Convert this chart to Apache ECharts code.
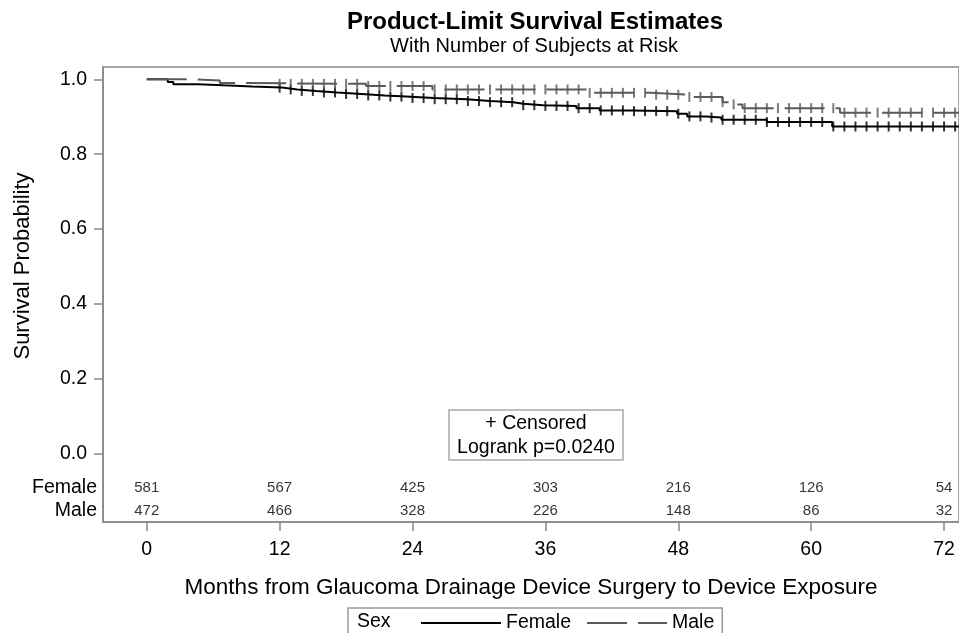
<!DOCTYPE html>
<html>
<head>
<meta charset="utf-8">
<title>Product-Limit Survival Estimates</title>
<script src="https://cdn.jsdelivr.net/npm/echarts@6/dist/echarts.min.js"></script>
<style>
  html, body { margin: 0; padding: 0; background: #fff; }
  #chart { width: 959px; height: 633px; }
</style>
</head>
<body>
<div id="chart"></div>
<script>
// tick labels / at-risk table
var months = [0, 12, 24, 36, 48, 60, 72];
var yTicks = [0, 0.2, 0.4, 0.6, 0.8, 1.0];
var femaleAtRisk = [581, 567, 425, 303, 216, 126, 54];
var maleAtRisk = [472, 466, 328, 226, 148, 86, 32];

// KM steps (time, survival after step)
var femaleTime = [0, 1.9, 2.4, 4.6, 6.9, 9.5, 12.2, 13.6, 15.3, 17.2, 19.4, 21.5, 23.4, 25.9, 28.9, 31.0, 33.1, 34.0, 35.8, 38.8, 40.9, 43.9, 47.9, 48.8, 50.5, 51.9, 56.0, 61.9];
var femaleSurv = [1.0, 0.993, 0.987, 0.984, 0.981, 0.978, 0.973, 0.969, 0.965, 0.961, 0.957, 0.954, 0.950, 0.947, 0.942, 0.939, 0.935, 0.931, 0.929, 0.923, 0.917, 0.915, 0.908, 0.901, 0.898, 0.892, 0.886, 0.874];
var maleTime = [0, 4.5, 6.6, 9.0, 19.8, 25.8, 40.0, 45.5, 48.8, 52.0, 52.9, 53.8, 62.6];
var maleSurv = [1.0, 0.997, 0.990, 0.988, 0.982, 0.973, 0.964, 0.959, 0.953, 0.939, 0.933, 0.923, 0.911];

// censoring times (the + marks)
var femaleCensor = [12, 13, 14, 15, 16, 17, 18, 19, 20, 21, 22, 23, 24, 25, 26, 27, 28, 29, 30, 31, 32, 33, 34, 35, 36, 37, 38, 39, 40, 41, 42, 43, 44, 45, 46, 47, 48, 49, 50, 51, 52, 53, 54, 55, 56, 57, 58, 59, 60, 61, 62, 63, 64, 65, 66, 67, 68, 69, 70, 71, 72, 73];
var maleCensor = [12, 13, 14, 15, 16, 17, 18, 19, 20, 21, 22, 23, 24, 25, 26, 27, 28, 29, 30, 31, 32, 33, 34, 35, 36, 37, 38, 39, 40, 41, 42, 43, 44, 45, 46, 47, 48, 49, 50, 51, 52, 53, 54, 55, 56, 57, 58, 59, 60, 61, 62, 63, 64, 65, 66, 67, 68, 69, 70, 71, 72, 73];

var xMin = -3.95, xMax = 73.35;
var yMin = -0.183, yMax = 1.033;
var femaleRowY = -0.091, maleRowY = -0.153;
var font = 'Liberation Sans, Arial, Helvetica, sans-serif';

function stepData(t, s) {
    var d = t.map(function (x, i) { return [x, s[i]]; });
    d.push([xMax, s[s.length - 1]]);
    return d;
}
function survAt(t, s, x) {
    var v = s[0];
    for (var i = 0; i < t.length; i++) {
        if (t[i] <= x) v = s[i];
    }
    return v;
}
function censorData(c, t, s) {
    return c.map(function (x) { return [x, survAt(t, s, x)]; });
}
function riskData(counts, y) {
    return months.map(function (m, i) { return [m, y, counts[i]]; });
}

var myChart = echarts.init(document.getElementById('chart'));

var riskLabel = {
    show: true,
    position: 'inside',
    fontFamily: font,
    fontSize: 15,
    color: '#000',
    formatter: function (p) { return p.value[2]; }
};

var option = {
    animation: false,
    textStyle: { fontFamily: font },
    title: [{
        text: 'Product-Limit Survival Estimates',
        left: 535, top: 10, padding: 0, textAlign: 'center',
        textStyle: { fontFamily: font, fontSize: 24, fontWeight: 'bold', color: '#000' }
    }, {
        text: 'With Number of Subjects at Risk',
        left: 534, top: 36, padding: 0, textAlign: 'center',
        textStyle: { fontFamily: font, fontSize: 20, fontWeight: 'normal', color: '#000' }
    }],
    grid: {
        left: 103, right: -2, top: 67, bottom: 111,
        show: true, borderColor: '#888', borderWidth: 1.5
    },
    legend: {
        data: ['Female', 'Male'],
        left: 348, top: 608,
        padding: [5, 8, 5, 72],
        itemWidth: 80, itemHeight: 14, itemGap: 15,
        itemStyle: { opacity: 0 },
        borderColor: '#999', borderWidth: 1.5,
        textStyle: { fontFamily: font, fontSize: 19.5, color: '#000' }
    },
    xAxis: {
        type: 'value', min: xMin, max: xMax,
        axisLine: { onZero: false, lineStyle: { color: '#888', width: 1.5 } },
        axisTick: { customValues: months, length: 9, lineStyle: { color: '#888', width: 1.5 } },
        axisLabel: { customValues: months, margin: 18, fontFamily: font, fontSize: 19.5, color: '#000' },
        splitLine: { show: false },
        name: 'Months from Glaucoma Drainage Device Surgery to Device Exposure',
        nameLocation: 'middle', nameGap: 54,
        nameTextStyle: { fontFamily: font, fontSize: 22.5, color: '#000' }
    },
    yAxis: {
        type: 'value', min: yMin, max: yMax,
        axisLine: { show: true, onZero: false, lineStyle: { color: '#888', width: 1.5 } },
        axisTick: { show: true, customValues: yTicks, length: 9, lineStyle: { color: '#888', width: 1.5 } },
        axisLabel: {
            customValues: yTicks, margin: 16, fontFamily: font, fontSize: 19.5, color: '#000',
            formatter: function (v) { return v.toFixed(1); }
        },
        splitLine: { show: false }
    },
    graphic: [
        {
            type: 'text', x: 23, y: 266, rotation: Math.PI / 2,
            style: { text: 'Survival Probability', fontFamily: font, fontSize: 22, fill: '#000', align: 'center', verticalAlign: 'middle' }
        },
        {
            type: 'text', x: 97, y: 488,
            style: { text: 'Female', fontFamily: font, fontSize: 19.5, fill: '#000', align: 'right', verticalAlign: 'middle' }
        },
        {
            type: 'text', x: 97, y: 511,
            style: { text: 'Male', fontFamily: font, fontSize: 19.5, fill: '#000', align: 'right', verticalAlign: 'middle' }
        },
        {
            type: 'rect', shape: { x: 449, y: 410, width: 174, height: 50 },
            style: { fill: '#fff', stroke: '#aaa', lineWidth: 1.5 }
        },
        {
            type: 'text', x: 536, y: 424,
            style: { text: '+ Censored', fontFamily: font, fontSize: 19.5, fill: '#000', align: 'center', verticalAlign: 'middle' }
        },
        {
            type: 'text', x: 536, y: 448,
            style: { text: 'Logrank p=0.0240', fontFamily: font, fontSize: 19.5, fill: '#000', align: 'center', verticalAlign: 'middle' }
        },
        {
            type: 'text', x: 357, y: 622,
            style: { text: 'Sex', fontFamily: font, fontSize: 19.5, fill: '#000', align: 'left', verticalAlign: 'middle' }
        }
    ],
    series: [
        {
            name: 'Female', type: 'line', step: 'end', showSymbol: false, symbol: 'none',
            data: stepData(femaleTime, femaleSurv),
            lineStyle: { color: '#000', width: 2 }, itemStyle: { color: '#000' }
        },
        {
            name: 'Male', type: 'line', step: 'end', showSymbol: false, symbol: 'none',
            data: stepData(maleTime, maleSurv),
            lineStyle: { color: '#5a5a5a', width: 2, type: [40, 11] }, itemStyle: { color: '#5a5a5a' }
        },
        {
            name: 'Female censored', type: 'scatter', symbol: 'rect', symbolSize: [2, 10],
            data: censorData(femaleCensor, femaleTime, femaleSurv),
            itemStyle: { color: '#000' }, silent: true
        },
        {
            name: 'Male censored', type: 'scatter', symbol: 'rect', symbolSize: [2, 10],
            data: censorData(maleCensor, maleTime, maleSurv),
            itemStyle: { color: '#5a5a5a' }, silent: true
        },
        {
            name: 'Female at risk', type: 'scatter', symbolSize: 0,
            data: riskData(femaleAtRisk, femaleRowY), label: riskLabel, silent: true
        },
        {
            name: 'Male at risk', type: 'scatter', symbolSize: 0,
            data: riskData(maleAtRisk, maleRowY), label: riskLabel, silent: true
        }
    ]
};

myChart.setOption(option);
</script>
</body>
</html>
